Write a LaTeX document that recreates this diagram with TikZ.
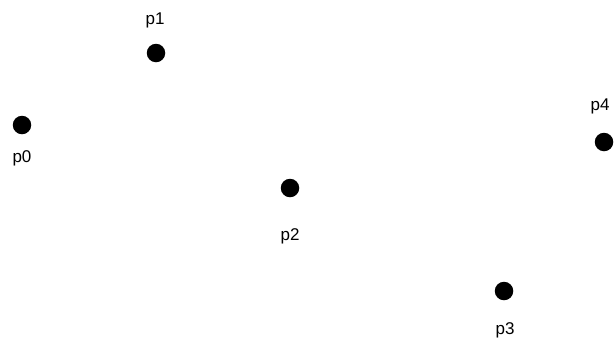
\documentclass[tikz,border=0pt]{standalone}
\usepackage{fontspec}
\setmainfont{Liberation Sans}
\usepackage{tikz}
\tikzset{
  pointdot/.style={circle, fill=black, inner sep=0pt, minimum size=18.5pt},
  pointlabel/.style={anchor=base, inner sep=0pt, font=\fontsize{17}{19}\selectfont}
}

\begin{document}
\begin{tikzpicture}[x=1pt, y=-1pt]
  % Page
  \useasboundingbox (0,0) rectangle (615,341);
  % Points and their labels
  \foreach \n/\px/\py/\lx/\ly in {0/22/125/22/162, 1/156/53/155/24, 2/290/188/290/240,
                                  3/504/291/505/334, 4/604/142/600/110}{
    \node[pointdot] (p\n) at (\px,\py) {};
    \node[pointlabel] (lab\n) at (\lx,\ly) {p\n};
  }
\end{tikzpicture}
\end{document}
